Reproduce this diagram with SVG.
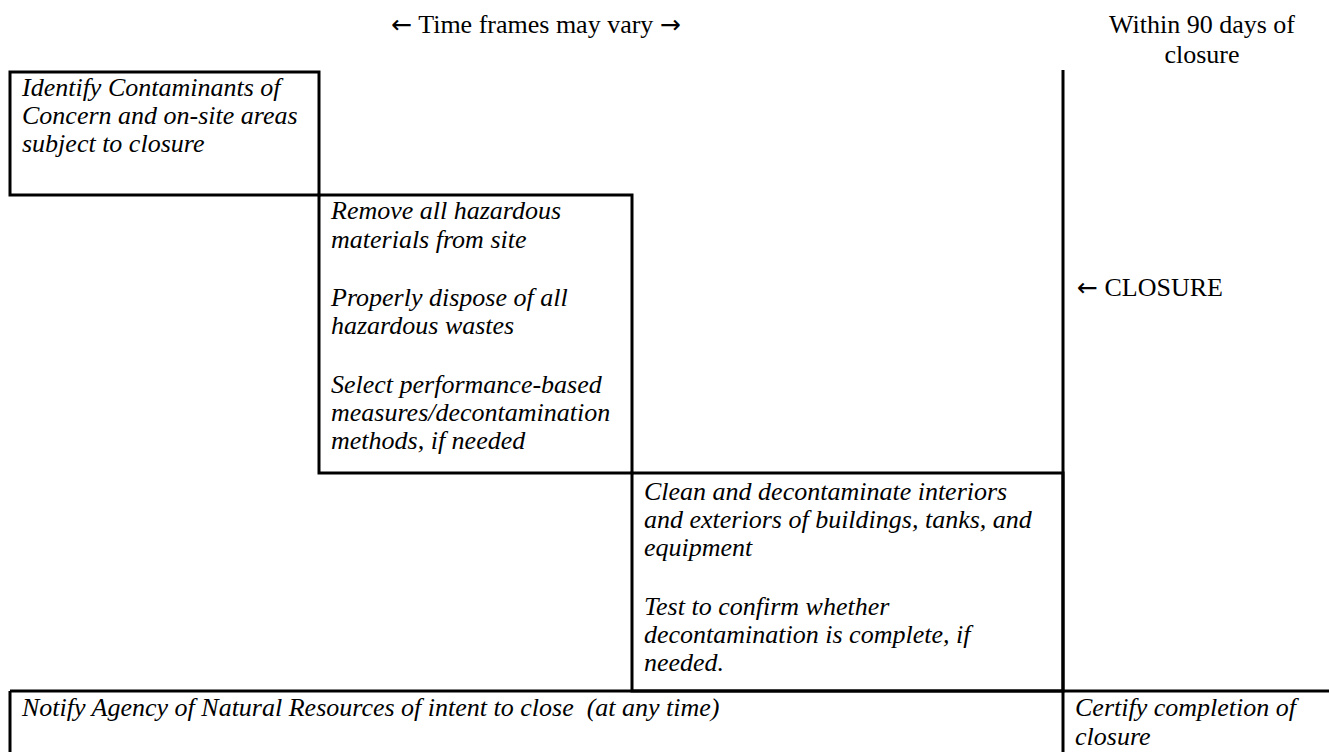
<svg xmlns="http://www.w3.org/2000/svg" width="1329" height="752" viewBox="0 0 1329 752">
<style>
.t{font-family:"Liberation Serif","Times New Roman",serif;font-size:26px;fill:#000}
.i{font-style:italic}
.c{text-anchor:middle}
.a{font-family:"DejaVu Sans",sans-serif;font-size:25px}
.b{fill:none;stroke:#000;stroke-width:3}
</style>
<rect width="1329" height="752" fill="#fff"/>
<g id="header">
<text class="t c" x="536" y="33"><tspan class="a">←</tspan> Time frames may vary <tspan class="a">→</tspan></text>
<text class="t c" x="1202" y="33">Within 90 days of</text>
<text class="t c" x="1202" y="63">closure</text>
</g>
<g id="connectors">
<path class="b" d="M1063 70V752M10 691H1329M10 691V752"/>
</g>
<g id="identify">
<rect class="b" x="10" y="72" width="309" height="123"/>
<text class="t i" x="22" y="96">Identify Contaminants of</text>
<text class="t i" x="22" y="124">Concern and on-site areas</text>
<text class="t i" x="22" y="152">subject to closure</text>
</g>
<g id="remove">
<rect class="b" x="319" y="195" width="313" height="278"/>
<text class="t i" x="331" y="219">Remove all hazardous</text>
<text class="t i" x="331" y="248">materials from site</text>
<text class="t i" x="331" y="306">Properly dispose of all</text>
<text class="t i" x="331" y="334">hazardous wastes</text>
<text class="t i" x="331" y="393">Select performance-based</text>
<text class="t i" x="331" y="421">measures/decontamination</text>
<text class="t i" x="331" y="449">methods, if needed</text>
</g>
<g id="clean">
<rect class="b" x="632" y="473" width="431" height="218"/>
<text class="t i" x="644" y="500">Clean and decontaminate interiors</text>
<text class="t i" x="644" y="528">and exteriors of buildings, tanks, and</text>
<text class="t i" x="644" y="556">equipment</text>
<text class="t i" x="644" y="615">Test to confirm whether</text>
<text class="t i" x="644" y="643">decontamination is complete, if</text>
<text class="t i" x="644" y="671">needed.</text>
</g>
<g id="closure">
<text class="t" x="1077" y="296"><tspan class="a">←</tspan> CLOSURE</text>
</g>
<g id="notify">
<text class="t i" x="22" y="716">Notify Agency of Natural Resources of intent to close &#160;(at any time)</text>
</g>
<g id="certify">
<text class="t i" x="1075" y="716">Certify completion of</text>
<text class="t i" x="1075" y="745">closure</text>
</g>
</svg>
